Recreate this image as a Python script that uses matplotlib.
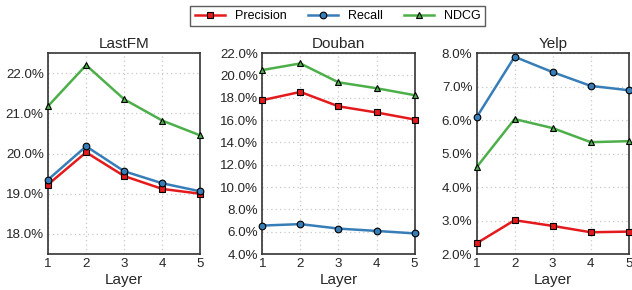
import numpy as np
import matplotlib
matplotlib.use('Agg')
import matplotlib.pyplot as plt
from matplotlib.ticker import FuncFormatter

plt.rcParams['font.family'] = ['Liberation Sans', 'DejaVu Sans']
plt.rcParams['font.size'] = 9

layers = [1, 2, 3, 4, 5]
datasets = ['LastFM', 'Douban', 'Yelp']
metrics = ['Precision', 'Recall', 'NDCG']

# values in percent
lastfm_precision = [19.23, 20.03, 19.44, 19.12, 19.00]
lastfm_recall = [19.35, 20.18, 19.56, 19.26, 19.06]
lastfm_ndcg = [21.18, 22.20, 21.35, 20.82, 20.45]

douban_precision = [17.78, 18.52, 17.23, 16.68, 16.05]
douban_recall = [6.55, 6.68, 6.28, 6.07, 5.85]
douban_ndcg = [20.48, 21.07, 19.38, 18.85, 18.23]

yelp_precision = [2.32, 3.01, 2.84, 2.65, 2.67]
yelp_recall = [6.08, 7.89, 7.43, 7.02, 6.89]
yelp_ndcg = [4.59, 6.03, 5.76, 5.34, 5.37]

ylims = [(17.5, 22.5), (4, 22), (2, 8)]
yticks = [[18, 19, 20, 21, 22], np.arange(4, 23, 2), np.arange(2, 9, 1)]

data = [[lastfm_precision, lastfm_recall, lastfm_ndcg],
        [douban_precision, douban_recall, douban_ndcg],
        [yelp_precision, yelp_recall, yelp_ndcg]]

colors = ['#e41a1c', '#377eb8', '#4daf4a']
markers = ['s', 'o', '^']

fig = plt.figure(figsize=(6.32, 2.9), dpi=100)
lefts = [0.076, 0.415, 0.754]
w = 0.241
bottom, h = 0.124, 0.693

handles = []
for k in range(3):
    ax = fig.add_axes([lefts[k], bottom, w, h])
    for m in range(3):
        ln, = ax.plot(layers, data[k][m], color=colors[m], marker=markers[m],
                      markersize=4.8, markeredgecolor='k', markeredgewidth=0.8,
                      lw=1.8, label=metrics[m], clip_on=False, zorder=3)
        if k == 0:
            handles.append(ln)
    ax.set_xlim(1, 5)
    ax.set_ylim(*ylims[k])
    ax.set_xticks(layers)
    ax.set_yticks(yticks[k])
    ax.yaxis.set_major_formatter(FuncFormatter(lambda v, p: '%.1f%%' % v))
    ax.grid(True, ls=(0, (1, 2.5)), color='#c8c8c8', lw=0.9)
    ax.tick_params(length=0, labelsize=9.6, colors='#262626', pad=3)
    for s in ax.spines.values():
        s.set_color('#333333')
        s.set_linewidth(1.2)
    ax.set_title(datasets[k], fontsize=11, color='#262626', pad=4)
    ax.set_xlabel('Layer', fontsize=11, color='#262626', labelpad=2)

leg = fig.legend(handles=handles, loc='center', bbox_to_anchor=(0.534, 0.945),
                 ncol=3, fontsize=9, frameon=True, fancybox=False,
                 handlelength=2.4, columnspacing=1.7, borderpad=0.35,
                 handletextpad=0.8)
leg.get_frame().set_edgecolor('#333333')
leg.get_frame().set_linewidth(1.0)

fig.savefig('out.png', dpi=100)
